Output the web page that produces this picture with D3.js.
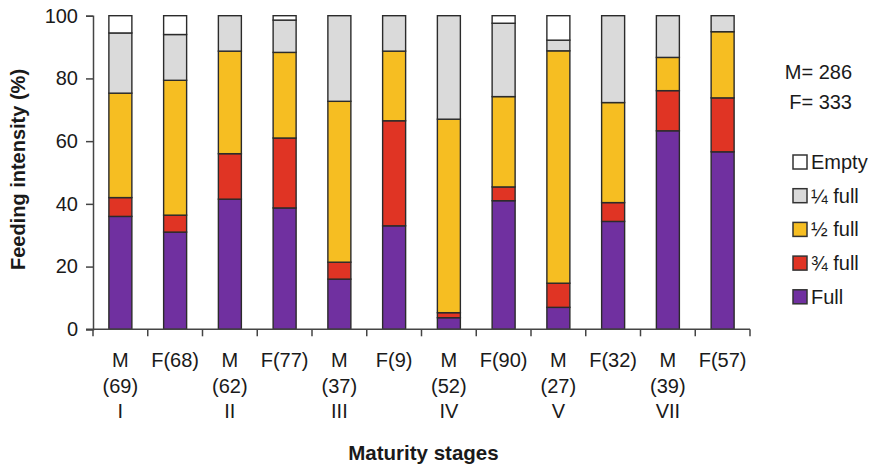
<!DOCTYPE html>
<html>
<head>
<meta charset="utf-8">
<script src="https://cdn.jsdelivr.net/npm/d3@7"></script>
<style>
  body { margin: 0; background: #fff; }
  svg text { font-family: "Liberation Sans", Arial, sans-serif; fill: #1a1a1a; }
</style>
</head>
<body>
<div id="chart"></div>
<script>
var groups = ['M69', 'F68', 'M62', 'F77', 'M37', 'F9', 'M52', 'F90', 'M27', 'F32', 'M39', 'F57'];
var sexes = ['M', 'F', 'M', 'F', 'M', 'F', 'M', 'F', 'M', 'F', 'M', 'F'];
var counts = [69, 68, 62, 77, 37, 9, 52, 90, 27, 32, 39, 57];
var stages = ['I', '', 'II', '', 'III', '', 'IV', '', 'V', '', 'VII', ''];

var categories = ['Full', '¾ full', '½ full', '¼ full', 'Empty'];
var full =    [36.0, 31.0, 41.5, 38.7, 16.0, 33.0, 3.7, 41.0, 7.0, 34.4, 63.3, 56.6];
var threeQ =  [6.0, 5.4, 14.5, 22.3, 5.4, 33.5, 1.6, 4.4, 7.7, 6.0, 12.8, 17.2];
var half =    [33.3, 43.0, 32.7, 27.3, 51.3, 22.2, 61.7, 28.8, 74.1, 31.9, 10.6, 21.1];
var quarter = [19.2, 14.6, 11.3, 10.3, 27.3, 11.3, 33.0, 23.4, 3.4, 27.7, 13.3, 5.1];
var empty =   [5.5, 6.0, 0, 1.4, 0, 0, 0, 2.4, 7.8, 0, 0, 0];
var yTicks = [0, 20, 40, 60, 80, 100];
var totals = ['M= 286', 'F= 333'];

var colors = {'Full': '#7030a0', '¾ full': '#e03424', '½ full': '#f6be22', '¼ full': '#dadada', 'Empty': '#ffffff'};

var width = 875, height = 466;
var margin = {left: 93, right: 125, top: 15.7, bottom: 136.7};

var svg = d3.select('#chart').append('svg')
  .attr('width', width)
  .attr('height', height);

var table = groups.map(function(g, i) {
  return {group: g, 'Full': full[i], '¾ full': threeQ[i], '½ full': half[i], '¼ full': quarter[i], 'Empty': empty[i]};
});

var stack = d3.stack().keys(categories);
var series = stack(table);

var x = d3.scaleBand()
  .domain(groups)
  .range([margin.left, width - margin.right])
  .paddingInner(0.58)
  .paddingOuter(0.29);

var y = d3.scaleLinear()
  .domain([0, 100])
  .range([height - margin.bottom, margin.top]);

// bars
svg.append('g')
  .selectAll('g')
  .data(series)
  .enter().append('g')
    .attr('fill', function(d) { return colors[d.key]; })
  .selectAll('rect')
  .data(function(d) { return d.filter(function(s) { return s[1] - s[0] > 0; }); })
  .enter().append('rect')
    .attr('x', function(d) { return x(d.data.group); })
    .attr('y', function(d) { return y(d[1]); })
    .attr('width', x.bandwidth())
    .attr('height', function(d) { return y(d[0]) - y(d[1]); })
    .attr('stroke', '#2b2b2b')
    .attr('stroke-width', 1.4);

// y axis
var yAxis = svg.append('g')
  .attr('transform', 'translate(' + margin.left + ',0)')
  .call(d3.axisLeft(y).tickValues(yTicks).tickSize(7).tickPadding(8));
yAxis.select('.domain').attr('stroke', '#444').attr('stroke-width', 1.5);
yAxis.selectAll('.tick line').attr('stroke', '#444').attr('stroke-width', 1.5);
yAxis.selectAll('.tick text')
  .style('font-size', '20px')
  .style('font-family', '"Liberation Sans", Arial, sans-serif')
  .attr('fill', '#1a1a1a');

// x axis: line with ticks between bars
var x0 = x.range()[0], x1 = x.range()[1];
var xAxis = svg.append('g');
xAxis.append('line')
  .attr('x1', x0 - 7).attr('x2', x1)
  .attr('y1', y(0)).attr('y2', y(0))
  .attr('stroke', '#444').attr('stroke-width', 1.5);
xAxis.selectAll('.xtick')
  .data(d3.range(groups.length + 1))
  .enter().append('line')
    .attr('class', 'xtick')
    .attr('x1', function(i) { return x0 + i * x.step(); })
    .attr('x2', function(i) { return x0 + i * x.step(); })
    .attr('y1', y(0))
    .attr('y2', y(0) + 7)
    .attr('stroke', '#444').attr('stroke-width', 1.5);

// category labels
var lab = xAxis.selectAll('.xlab')
  .data(groups)
  .enter().append('text')
    .attr('class', 'xlab')
    .attr('text-anchor', 'middle')
    .style('font-size', '20px');
lab.each(function(g, i) {
  var t = d3.select(this);
  var cx = x(g) + x.bandwidth() / 2;
  if (sexes[i] === 'M') {
    t.append('tspan').attr('x', cx).attr('y', 367).text('M');
    t.append('tspan').attr('x', cx).attr('y', 393).text('(' + counts[i] + ')');
    t.append('tspan').attr('x', cx).attr('y', 418).text(stages[i]);
  } else {
    t.append('tspan').attr('x', cx).attr('y', 367).text('F(' + counts[i] + ')');
  }
});

// axis titles
svg.append('text')
  .attr('x', (x0 + x1) / 2 + 2)
  .attr('y', 460)
  .attr('text-anchor', 'middle')
  .style('font-size', '20.5px')
  .style('font-weight', 'bold')
  .text('Maturity stages');

svg.append('text')
  .attr('transform', 'translate(25,' + (y(50) - 3) + ') rotate(-90)')
  .attr('text-anchor', 'middle')
  .style('font-size', '20px')
  .style('font-weight', 'bold')
  .text('Feeding intensity (%)');

// totals
svg.selectAll('.total')
  .data(totals)
  .enter().append('text')
    .attr('class', 'total')
    .attr('x', 852)
    .attr('y', function(d, i) { return 79 + i * 30; })
    .attr('text-anchor', 'end')
    .style('font-size', '20px')
    .text(function(d) { return d; });

// legend
var legendKeys = categories.slice().reverse();
var legend = svg.selectAll('.legend')
  .data(legendKeys)
  .enter().append('g')
    .attr('class', 'legend')
    .attr('transform', function(d, i) { return 'translate(793,' + (162 + i * 33.7) + ')'; });
legend.append('rect')
  .attr('x', 0).attr('y', -7)
  .attr('width', 14).attr('height', 14)
  .attr('fill', function(d) { return colors[d]; })
  .attr('stroke', '#333').attr('stroke-width', 1.5);
legend.append('text')
  .attr('x', 18)
  .attr('y', 7)
  .style('font-size', '20px')
  .text(function(d) { return d; });
</script>
</body>
</html>
